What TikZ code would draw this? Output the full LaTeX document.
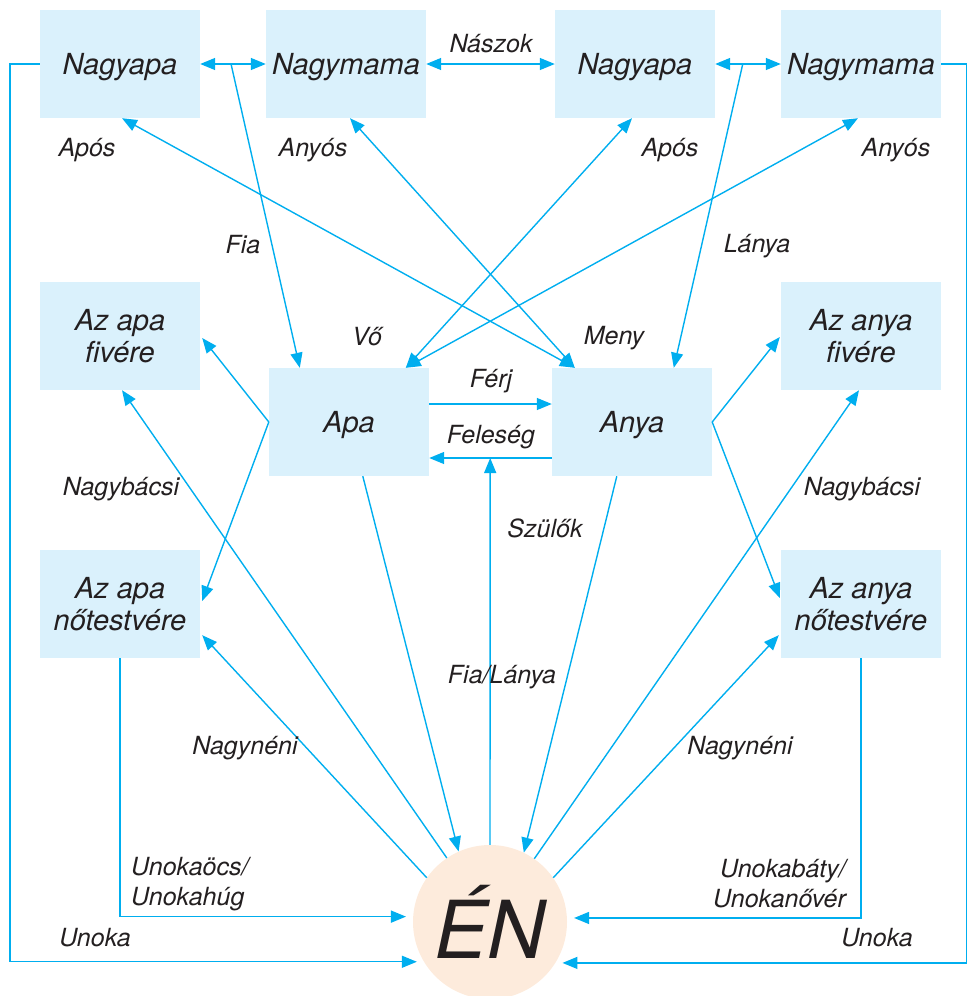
\documentclass[tikz,border=0pt]{standalone}
\usepackage{fontspec}
\setmainfont{TeX Gyre Heros}
\usetikzlibrary{arrows.meta,calc}
\definecolor{lc}{HTML}{00AEEF}
\definecolor{bx}{HTML}{DAF1FC}
\definecolor{pe}{HTML}{FDEBDC}
\definecolor{tx}{HTML}{231F20}
\begin{document}
\begin{tikzpicture}[x=1pt,y=-1pt,
  box/.style={fill=bx,minimum width=160pt,minimum height=108pt,inner sep=0pt,align=center,text depth=0pt,font=\fontsize{29}{32}\selectfont\itshape,text=tx},
  lbl/.style={font=\fontsize{25}{30}\selectfont\itshape,text=tx,inner sep=0pt},
  ln/.style={draw=lc,line width=1.4pt},
  >={Triangle[length=15pt,width=12pt]}]
\useasboundingbox (0,0) rectangle (967,996);
% nodes
\node[box] (gp1) at (120,64) {Nagyapa};
\node[box] (gm1) at (346,64) {Nagymama};
\node[box] (gp2) at (635,64) {Nagyapa};
\node[box] (gm2) at (861,64) {Nagymama};
\node[box] (afiv) at (120,336) {Az apa\\fivére};
\node[box] (anfiv) at (861,336) {Az anya\\fivére};
\node[box] (apa) at (349,422) {Apa};
\node[box] (anya) at (632,422) {Anya};
\node[box] (anot) at (120,604) {Az apa\\nőtestvére};
\node[box] (annot) at (861,604) {Az anya\\nőtestvére};
\node[circle,fill=pe,minimum size=154pt,inner sep=0pt,font=\fontsize{80}{80}\selectfont\itshape,text=tx] (en) at (490,922) {ÉN};
% top row
\draw[ln,<->] (gp1.east) -- (gm1.west);
\coordinate (fa) at ($(gp1.east)!0.47!(gm1.west)$);
\draw[ln,->] (fa) -- ($(apa.north west)+(31,0)$);
\draw[ln,<->] (gm1.east) -- (gp2.west);
\draw[ln,<->] (gp2.east) -- (gm2.west);
\coordinate (la) at ($(gp2.east)!0.42!(gm2.west)$);
\draw[ln,->] (la) -- ($(anya.north west)+(122,0)$);
% in-laws
\draw[ln,<->] ($(gp1.south)+(2,0)$) -- ($(anya.north west)+(23,0)$);
\draw[ln,<->] ($(gm1.south)+(4,0)$) -- ($(anya.north west)+(23,0)$);
\draw[ln,<->] ($(gp2.south)+(-3,0)$) -- ($(apa.north west)+(137,0)$);
\draw[ln,<->] ($(gm2.south)+(-3,0)$) -- ($(apa.north west)+(137,0)$);
% spouses
\draw[ln,->] ($(apa.east)+(0,-18)$) -- ($(anya.west)+(0,-18)$);
\draw[ln,->] ($(anya.west)+(0,36)$) -- ($(apa.east)+(0,36)$);
\coordinate (fel) at ($(apa.east)+(61,36)$);
\draw[ln,->] (en.north) -- (fel);
% parents to me
\draw[ln,->] ($(apa.south west)+(94,0)$) -- (en.114.6);
\draw[ln,->] ($(anya.south west)+(65,0)$) -- (en.64.7);
% siblings of parents
\draw[ln,->] (apa.west) -- ($(afiv.east)+(2,2)$);
\draw[ln,->] (apa.west) -- ($(anot.east)+(2,-3)$);
\draw[ln,->] (anya.east) -- ($(anfiv.west)+(-1,1)$);
\draw[ln,->] (anya.east) -- ($(annot.west)+(-1,-6)$);
% me to uncles / aunts
\draw[ln,->] (en.124) -- ($(afiv.south)+(2,0)$);
\draw[ln,->] (en.145) -- ($(anot.south east)+(2,-23)$);
\draw[ln,->] (en.55.5) -- ($(anfiv.south)+(-2,0)$);
\draw[ln,->] (en.35) -- ($(annot.south west)+(-2,-23)$);
% nephews / grandchildren
\draw[ln,->,shorten >=7pt] (anot.south) |- (en.176.3);
\draw[ln,->,shorten >=7pt] (annot.south) |- (en.3.7);
\draw[ln,->,shorten >=7pt] (gp1.west) -- ++(-30,0) |- (en.211.3);
\draw[ln,->,shorten >=7pt] (gm2.east) -- ++(25,0) |- (en.328.7);
% labels
\node[lbl] (t1) at (491,44) {Nászok};
\node[lbl] (t2) at (87,150) {Após};
\node[lbl] (t3) at (313,150) {Anyós};
\node[lbl] (t4) at (670,150) {Após};
\node[lbl] (t5) at (896,150) {Anyós};
\node[lbl] (t6) at (243,245) {Fia};
\node[lbl] (t7) at (757,246) {Lánya};
\node[lbl] (t8) at (367,337) {Vő};
\node[lbl] (t9) at (614,338) {Meny};
\node[lbl] (t10) at (491,381) {Férj};
\node[lbl] (t11) at (491,437) {Feleség};
\node[lbl] (t12) at (121,489) {Nagybácsi};
\node[lbl] (t13) at (862,489) {Nagybácsi};
\node[lbl] (t14) at (545,528) {Szülők};
\node[lbl] (t15) at (502,677) {Fia/Lánya};
\node[lbl] (t16) at (245,748) {Nagynéni};
\node[lbl] (t17) at (740,748) {Nagynéni};
\node[lbl,align=left,anchor=west] (t18) at (131,884) {Unokaöcs/\\Unokahúg};
\node[lbl,align=right,anchor=east] (t19) at (846,884) {Unokabáty/\\Unokanővér};
\node[lbl] (t20) at (95,938) {Unoka};
\node[lbl] (t21) at (877,938) {Unoka};
\end{tikzpicture}
\end{document}
